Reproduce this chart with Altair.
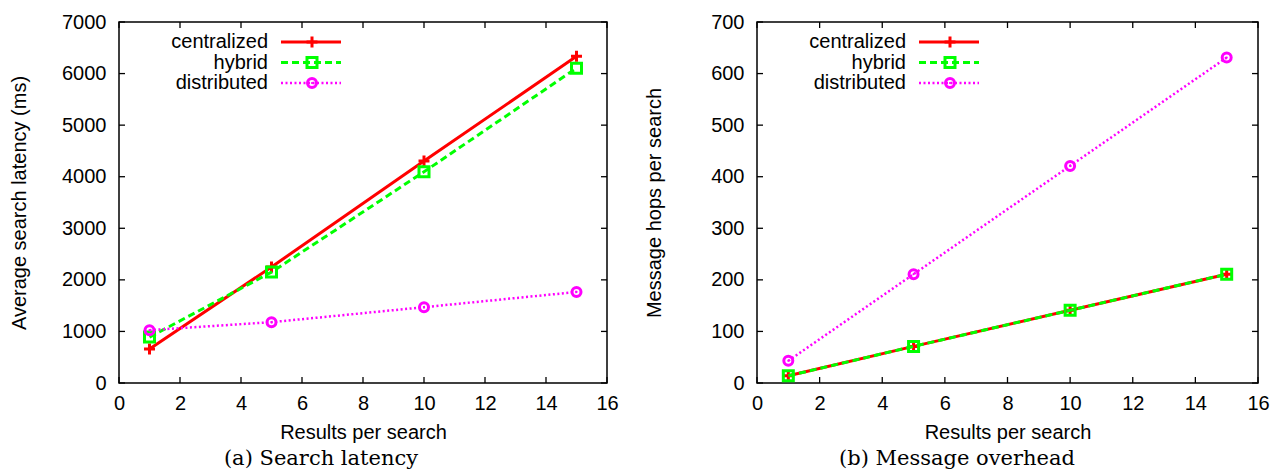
import altair as alt
import pandas as pd

# ---- data ----
x_vals = [1, 5, 10, 15]
series = ["centralized", "hybrid", "distributed"]

lat_centralized = [660, 2250, 4305, 6335]
lat_hybrid = [890, 2150, 4095, 6105]
lat_distributed = [1025, 1180, 1470, 1765]

hops_centralized = [14, 71, 141, 211]
hops_hybrid = [14, 71, 141, 211]
hops_distributed = [43, 211, 421, 631]

x_ticks = [0, 2, 4, 6, 8, 10, 12, 14, 16]
lat_ticks = [0, 1000, 2000, 3000, 4000, 5000, 6000, 7000]
hop_ticks = [0, 100, 200, 300, 400, 500, 600, 700]

x_title = "Results per search"
lat_title = "Average search latency (ms)"
hop_title = "Message hops per search"
captions = ["(a) Search latency", "(b) Message overhead"]

# ---- styles ----
colors = ["#ff0000", "#00ff00", "#ff00ff"]
dashes = [None, [7, 4], [2, 2.5]]
widths = [3, 3, 2.5]
shapes = ["M-1,0L1,0M0,-1L0,1", "square", "circle"]
sizes = [120, 100, 81]

FONT = "Liberation Sans"
H = 361


def panel(yvals_list, yticks, ymax, width, ytitle, ytitle_pad, caption, cap_x):
    xs = alt.Scale(domain=[0, 16], nice=False, zero=False)
    ys = alt.Scale(domain=[0, ymax], nice=False)
    xenc = alt.X("x:Q", scale=xs,
                 axis=alt.Axis(values=x_ticks, title=x_title, labelFlush=False,
                               labelPadding=10, titlePadding=9, format="d"))
    yenc = alt.Y("y:Q", scale=ys,
                 axis=alt.Axis(values=yticks, title=ytitle, labelFlush=False,
                               labelPadding=13, titlePadding=ytitle_pad, format="d"))
    layers = []
    tx = pd.DataFrame({"x": x_ticks})
    ty = pd.DataFrame({"y": yticks})
    tick_style = dict(color="black", strokeWidth=1.3)
    layers.append(alt.Chart(tx).mark_rule(**tick_style).encode(
        x=xenc, y=alt.value(H), y2=alt.value(H - 6)))
    layers.append(alt.Chart(tx).mark_rule(**tick_style).encode(
        x=xenc, y=alt.value(0), y2=alt.value(6)))
    layers.append(alt.Chart(ty).mark_rule(**tick_style).encode(
        y=yenc, x=alt.value(0), x2=alt.value(6)))
    layers.append(alt.Chart(ty).mark_rule(**tick_style).encode(
        y=yenc, x=alt.value(width - 6), x2=alt.value(width)))

    for i, (name, vals) in enumerate(zip(series, yvals_list)):
        df = pd.DataFrame({"x": x_vals, "y": vals})
        lk = dict(color=colors[i], strokeWidth=widths[i])
        if dashes[i]:
            lk["strokeDash"] = dashes[i]
        pk = dict(shape=shapes[i], size=sizes[i], filled=False, color=colors[i],
                  strokeWidth=3, opacity=1)
        layers.append(alt.Chart(df).mark_line(**lk).encode(x=xenc, y=yenc))
        layers.append(alt.Chart(df).mark_point(**pk).encode(x=xenc, y=yenc))
        if shapes[i] == "circle":
            layers.append(alt.Chart(df).mark_point(shape="circle", size=5, filled=True,
                                                   color=colors[i], opacity=1).encode(x=xenc, y=yenc))
        # legend entry
        ry = 20 + i * 20.5
        ldf = pd.DataFrame({"name": [name]})
        layers.append(alt.Chart(ldf).mark_text(align="right", baseline="middle", font=FONT,
                                               fontSize=20, color="black").encode(
            x=alt.value(149), y=alt.value(ry), text="name:N"))
        layers.append(alt.Chart(ldf).mark_rule(**lk).encode(
            x=alt.value(162), x2=alt.value(222), y=alt.value(ry)))
        layers.append(alt.Chart(ldf).mark_point(**pk).encode(x=alt.value(193), y=alt.value(ry)))
        if shapes[i] == "circle":
            layers.append(alt.Chart(ldf).mark_point(shape="circle", size=5, filled=True,
                                                    color=colors[i], opacity=1).encode(
                x=alt.value(193), y=alt.value(ry)))

    cdf = pd.DataFrame({"c": [caption]})
    layers.append(alt.Chart(cdf).mark_text(align="center", baseline="alphabetic",
                                           font="DejaVu Serif", fontSize=21, color="black").encode(
        x=alt.value(cap_x), y=alt.value(443), text="c:N"))
    return alt.layer(*layers).properties(width=width, height=H)


left = panel([lat_centralized, lat_hybrid, lat_distributed], lat_ticks, 7000, 488,
             lat_title, 32, captions[0], 202)
right = panel([hops_centralized, hops_hybrid, hops_distributed], hop_ticks, 700, 501,
              hop_title, 46, captions[1], 200)

chart = alt.hconcat(left, right, spacing=150, bounds="flush").properties(
    padding={"left": 8, "top": 11, "right": 5, "bottom": 5}
).configure_view(stroke="black", strokeWidth=1.5).configure_axis(
    grid=False, domain=False, ticks=False,
    labelFont=FONT, labelFontSize=20, labelColor="black",
    titleFont=FONT, titleFontSize=20, titleColor="black", titleFontWeight="normal",
)

chart.save("out.html", embed_options={"renderer": "svg", "actions": False})
